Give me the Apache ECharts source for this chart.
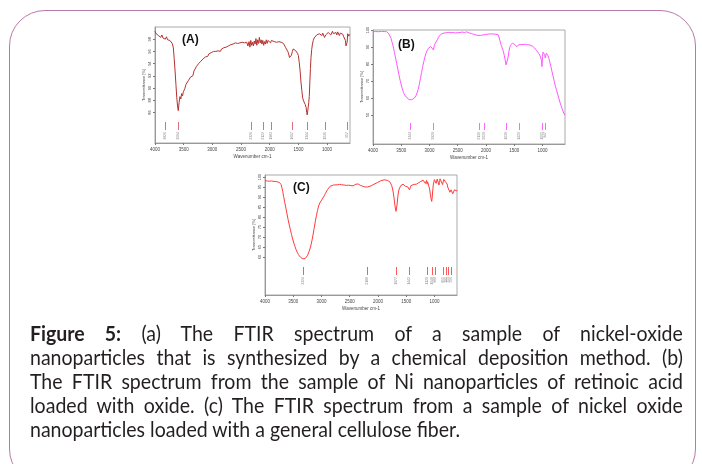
<!DOCTYPE html>
<html><head><meta charset="utf-8">
<script src="https://cdn.jsdelivr.net/npm/echarts@6/dist/echarts.min.js"></script>
<style>
html,body{margin:0;padding:0;background:#fff;width:702px;height:464px;overflow:hidden;}
#frame{position:absolute;left:9px;top:10px;width:687px;height:475px;border:1.5px solid #b87aa8;border-radius:36px;box-sizing:border-box;}
#chart{position:absolute;left:0;top:0;width:702px;height:464px;}
#caption{position:absolute;left:30px;top:321px;width:702px;transform:scaleX(0.93);transform-origin:left top;font-family:Lato,"Open Sans",sans-serif;font-size:21px;line-height:24px;color:#231f20;}
#caption .j{text-align:justify;text-align-last:justify;}
</style></head>
<body>
<div id="frame"></div>
<div id="chart"></div>
<div id="caption">
<div class="j"><b>Figure 5:</b> (a) The FTIR spectrum of a sample of nickel-oxide</div>
<div class="j">nanoparticles that is synthesized by a chemical deposition method. (b)</div>
<div class="j">The FTIR spectrum from the sample of Ni nanoparticles of retinoic acid</div>
<div class="j">loaded with oxide. (c) The FTIR spectrum from a sample of nickel oxide</div>
<div>nanoparticles loaded with a general cellulose fiber.</div>
</div>
<script>
// ---- data ----
const xTicks = [4000, 3500, 3000, 2500, 2000, 1500, 1000];
const yTicksA = [86, 88, 90, 92, 94, 96, 98];
const yTicksB = [50, 60, 70, 80, 90, 100];
const yTicksC = [60, 65, 70, 75, 80, 85, 90, 95, 100];

const spectrumA = [
[4000,99.3],[3980,98.9],[3960,99.1],[3940,98.6],[3920,98.9],[3900,98.3],[3880,98.7],[3860,98.2],[3840,98.5],[3820,98.0],
[3800,98.4],[3780,97.9],[3760,98.2],[3740,97.8],[3720,97.6],[3700,97.3],[3680,96.6],[3665,94.8],[3650,92.8],[3635,90.6],
[3620,88.4],[3605,86.9],[3594,86.3],[3580,87.6],[3565,88.6],[3550,88.2],[3535,89.1],[3520,88.7],[3505,89.4],[3480,89.9],
[3460,90.6],[3440,90.3],[3420,91.2],[3400,91.0],[3380,91.8],[3360,92.1],[3340,92.0],[3320,92.8],[3300,92.9],[3280,93.5],
[3260,93.3],[3240,94.0],[3220,93.9],[3200,94.4],[3180,94.2],[3160,94.8],[3140,94.9],[3120,95.1],[3100,95.4],[3080,95.2],
[3060,95.6],[3040,95.4],[3020,95.8],[3000,95.6],[2980,96.0],[2960,95.7],[2940,96.0],[2920,95.8],[2900,96.1],[2880,96.3],
[2860,96.0],[2840,96.4],[2820,96.3],[2800,96.6],[2780,96.5],[2760,96.7],[2740,96.6],[2720,96.9],[2700,96.8],[2680,97.1],
[2660,96.9],[2640,97.2],[2620,97.0],[2600,97.4],[2580,97.2],[2560,97.3],[2540,97.1],[2520,97.4],[2500,97.2],[2480,97.5],
[2460,97.2],[2440,97.4],[2420,97.1],[2400,97.5],[2380,96.9],[2360,97.6],[2345,96.7],[2330,97.8],[2315,97.0],[2300,97.5],
[2285,96.9],[2270,97.7],[2255,97.2],[2240,98.1],[2225,97.0],[2210,97.9],[2195,97.3],[2180,98.3],[2165,97.4],[2150,97.9],
[2135,97.2],[2120,97.8],[2105,97.0],[2090,97.6],[2075,97.2],[2060,97.9],[2045,97.3],[2030,97.8],[2015,97.5],[2000,97.9],
[1985,97.4],[1970,97.8],[1955,97.6],[1940,97.9],[1920,97.6],[1900,97.8],[1880,97.5],[1860,97.7],[1840,97.6],[1820,97.7],
[1800,97.5],[1780,97.4],[1760,97.3],[1740,97.0],[1720,96.6],[1700,96.3],[1685,96.0],[1670,95.6],[1655,95.0],[1640,94.8],
[1630,94.9],[1620,95.4],[1605,96.0],[1590,96.4],[1575,96.5],[1560,96.4],[1545,96.1],[1530,95.9],[1515,95.7],[1500,95.3],
[1485,94.2],[1470,92.8],[1455,91.0],[1440,89.6],[1425,88.4],[1410,87.9],[1395,87.6],[1380,87.3],[1365,86.8],[1355,86.0],
[1346,85.6],[1335,86.4],[1320,87.6],[1310,88.6],[1300,91.0],[1290,93.2],[1280,95.0],[1268,96.3],[1255,97.2],[1240,97.8],
[1225,98.2],[1210,98.4],[1195,98.5],[1180,98.7],[1165,98.6],[1150,98.8],[1135,98.9],[1120,98.7],[1105,99.1],[1090,98.6],
[1075,99.0],[1060,98.8],[1045,98.3],[1035,98.0],[1025,98.7],[1010,99.0],[995,98.8],[980,99.1],[965,98.9],[950,99.2],
[935,98.7],[920,99.0],[905,99.3],[890,98.9],[875,99.2],[860,98.8],[845,99.1],[830,98.7],[815,99.2],[800,98.9],
[785,98.6],[770,99.0],[755,98.7],[740,99.1],[725,98.8],[710,98.4],[695,98.6],[680,97.8],[670,96.9],[660,96.6],
[650,97.5],[640,98.9],[630,99.1],[620,98.5],[610,98.8],[600,98.6]
];

const spectrumB = [
[4000,99.0],[3950,99.1],[3900,99.0],[3850,99.2],[3800,99.1],[3760,99.0],[3740,98.6],[3720,97.8],[3700,96.8],[3680,95.0],
[3660,92.6],[3640,90.0],[3620,86.8],[3600,83.5],[3580,80.2],[3560,77.0],[3540,73.6],[3520,70.5],[3500,67.8],[3480,65.3],
[3460,63.2],[3440,61.8],[3420,60.8],[3400,60.2],[3380,59.6],[3360,59.1],[3343,58.9],[3320,59.0],[3300,59.3],[3280,59.6],
[3260,60.0],[3240,61.3],[3220,63.0],[3200,65.0],[3180,68.0],[3160,71.5],[3140,75.0],[3120,78.5],[3100,81.5],[3080,84.2],
[3060,86.4],[3040,88.0],[3020,89.2],[3000,89.8],[2980,90.3],[2960,90.4],[2945,89.6],[2930,88.3],[2915,90.8],[2900,92.0],
[2880,92.6],[2860,94.3],[2840,95.8],[2820,96.8],[2800,97.4],[2780,97.9],[2760,98.1],[2740,98.3],[2700,98.4],[2660,98.6],
[2620,98.4],[2580,98.5],[2540,98.3],[2500,98.4],[2460,98.5],[2420,98.8],[2380,98.5],[2340,98.9],[2300,98.3],[2260,97.9],
[2220,97.5],[2190,97.1],[2160,96.9],[2130,96.6],[2100,96.8],[2070,96.5],[2050,97.1],[2030,97.9],[2010,97.3],[1990,98.1],
[1960,97.6],[1930,97.8],[1900,97.7],[1870,97.5],[1840,97.6],[1810,97.3],[1780,97.1],[1765,96.0],[1750,93.5],[1735,91.5],
[1720,90.2],[1705,88.7],[1690,87.2],[1675,85.0],[1660,82.5],[1645,79.5],[1635,78.6],[1625,79.8],[1610,83.5],[1595,87.0],
[1580,89.6],[1565,91.0],[1550,91.8],[1530,92.3],[1510,92.1],[1490,91.4],[1470,90.6],[1450,90.2],[1435,90.6],[1420,91.4],
[1400,91.6],[1380,91.4],[1360,91.7],[1340,91.5],[1320,91.9],[1300,91.6],[1280,91.8],[1260,91.4],[1240,91.5],[1220,91.1],
[1200,91.0],[1180,90.6],[1160,90.0],[1140,89.5],[1120,88.6],[1100,87.8],[1080,87.0],[1060,86.0],[1040,84.8],[1025,84.0],
[1015,82.0],[1008,78.5],[1003,79.5],[997,84.5],[990,87.0],[980,88.0],[970,87.2],[960,85.5],[950,83.5],[942,84.8],
[930,86.5],[915,86.0],[900,84.8],[885,83.2],[870,81.3],[850,78.5],[830,75.6],[810,72.6],[790,69.8],[770,67.0],
[750,64.6],[730,62.3],[710,60.0],[690,57.6],[670,55.5],[650,53.6],[630,51.8],[615,50.6],[600,50.0]
];

const spectrumC = [
[4000,98.2],[3960,98.0],[3920,97.9],[3880,98.0],[3860,97.6],[3840,97.8],[3820,97.5],[3800,97.7],[3780,97.5],[3765,97.6],
[3745,97.3],[3730,96.9],[3715,96.2],[3700,94.6],[3685,92.6],[3670,90.3],[3650,87.3],[3630,84.4],[3610,81.5],[3590,78.6],
[3570,76.0],[3550,73.6],[3530,71.2],[3510,69.0],[3490,67.0],[3470,65.3],[3450,63.7],[3430,62.4],[3410,61.3],[3390,60.4],
[3370,59.8],[3350,59.4],[3330,59.1],[3310,59.3],[3290,59.2],[3270,59.7],[3250,60.6],[3230,62.0],[3210,63.5],[3190,65.5],
[3170,68.0],[3150,71.0],[3130,74.3],[3110,77.6],[3090,80.6],[3070,83.3],[3050,85.5],[3030,87.0],[3010,88.0],[2990,88.8],
[2970,89.5],[2950,90.6],[2930,91.8],[2910,92.8],[2890,93.8],[2870,94.6],[2850,95.3],[2820,95.8],[2790,96.0],[2760,96.2],
[2720,96.1],[2680,96.3],[2640,96.1],[2600,96.0],[2560,95.8],[2520,95.9],[2480,95.7],[2440,95.6],[2410,95.9],[2390,96.4],
[2375,97.4],[2365,97.2],[2350,96.5],[2330,96.2],[2310,95.8],[2290,95.6],[2270,95.4],[2250,95.2],[2230,95.0],[2210,95.3],
[2195,94.2],[2185,95.0],[2170,95.3],[2150,95.2],[2120,95.6],[2100,96.1],[2070,96.4],[2040,96.8],[2010,97.2],[1980,97.7],
[1950,98.1],[1920,98.4],[1890,98.6],[1860,98.5],[1830,98.3],[1800,98.0],[1785,97.4],[1770,96.5],[1755,95.6],[1740,94.0],
[1725,91.5],[1710,88.5],[1700,86.0],[1690,84.0],[1680,82.8],[1672,83.2],[1662,86.0],[1650,89.5],[1640,92.0],[1625,94.0],
[1610,95.0],[1595,95.7],[1575,96.2],[1555,96.4],[1535,96.0],[1515,95.4],[1500,95.8],[1485,95.5],[1470,95.0],[1455,94.4],
[1442,93.6],[1430,94.6],[1415,95.7],[1400,96.2],[1380,96.0],[1360,96.3],[1340,96.5],[1320,96.4],[1300,96.8],[1280,97.1],
[1260,97.5],[1240,97.8],[1220,98.2],[1200,98.4],[1185,98.8],[1175,98.2],[1160,96.8],[1150,97.8],[1140,98.3],[1130,96.4],
[1120,97.6],[1110,98.2],[1100,97.0],[1085,94.0],[1070,91.0],[1058,89.0],[1048,87.8],[1040,89.5],[1030,93.0],[1020,96.0],
[1010,97.5],[1000,98.7],[990,99.2],[980,98.5],[970,96.8],[960,97.4],[950,99.0],[940,99.3],[930,98.2],[920,96.0],
[910,97.2],[900,99.1],[890,99.6],[880,100.0],[872,99.8],[865,98.2],[855,96.2],[845,97.6],[835,98.8],[825,99.2],
[815,98.5],[805,97.6],[795,97.0],[785,97.9],[775,96.5],[765,95.0],[755,94.0],[745,94.8],[735,94.0],[725,92.4],
[715,92.0],[705,93.6],[695,94.2],[685,93.0],[675,91.6],[665,91.3],[655,92.5],[645,93.6],[635,93.2],[625,92.8],
[615,93.5],[605,93.0],[600,93.4]
];

const peaksA = [3826, 3594, 2326, 2122, 1983, 1617, 1344, 1036, 657];
const peaksB = [3343, 2929, 2130, 2029, 1639, 1420, 1005, 947];
const peaksC = [3324, 2188, 1677, 1442, 1129, 1048, 988, 855, 795, 755, 706];

// ---- chart ----
const panels = [
  {grid:{left:155, top:27, width:195, height:116}, yMin:81, yMax:100, yTicks:yTicksA, data:spectrumA, peaks:peaksA,
   color:'#b5312f', peakColor:'#d9707c', mk:[21,13,11]},
  {grid:{left:373, top:30, width:192, height:114}, yMin:33, yMax:100, yTicks:yTicksB, data:spectrumB, peaks:peaksB,
   color:'#ff55ff', peakColor:'#ff66ff', mk:[21,14,12]},
  {grid:{left:265, top:175, width:192, height:120}, yMin:41, yMax:101, yTicks:yTicksC, data:spectrumC, peaks:peaksC,
   color:'#ff3b3b', peakColor:'#ff5a5a', mk:[28,20,18]}
];

const option = {
  animation:false,
  grid: panels.map(p => Object.assign({show:true, borderColor:'#aaaaaa', borderWidth:1, containLabel:false}, p.grid)),
  xAxis: panels.map((p,i) => ({
    type:'value', gridIndex:i, inverse:true, min:600, max:4000,
    axisLine:{show:true, lineStyle:{color:'#999', width:1}},
    axisTick:{show:true, customValues:xTicks, length:2, lineStyle:{color:'#777'}},
    axisLabel:{customValues:xTicks, fontSize:4.5, color:'#444', margin:4, fontFamily:'Arial', formatter:v => String(v)},
    splitLine:{show:false},
    name:'Wavenumber cm-1', nameLocation:'middle', nameGap:11,
    nameTextStyle:{fontSize:4.5, color:'#444', fontFamily:'Arial'}
  })),
  yAxis: panels.map((p,i) => ({
    type:'value', gridIndex:i, min:p.yMin, max:p.yMax,
    axisLine:{show:true, lineStyle:{color:'#999', width:1}},
    axisTick:{show:true, customValues:p.yTicks, length:2, lineStyle:{color:'#777'}},
    axisLabel:{customValues:p.yTicks, rotate:90, fontSize:4, color:'#444', margin:3, fontFamily:'Arial', formatter:v => String(v)},
    splitLine:{show:false},
    name:'Transmittance [%]', nameLocation:'middle', nameRotate:90, nameGap:9,
    nameTextStyle:{fontSize:4, color:'#444', fontFamily:'Arial'}
  })),
  series: [],
  graphic: [
    {type:'text', left:182, top:34, style:{text:'(A)', font:'bold 12px Arial', fill:'#111'}},
    {type:'text', left:398, top:39, style:{text:'(B)', font:'bold 12px Arial', fill:'#111'}},
    {type:'text', left:293, top:182, style:{text:'(C)', font:'bold 12px Arial', fill:'#111'}}
  ]
};

panels.forEach((p,i) => {
  option.series.push({
    type:'line', xAxisIndex:i, yAxisIndex:i, data:p.data, showSymbol:false, smooth:false,
    lineStyle:{color:p.color, width:1}, itemStyle:{color:p.color}, z:3
  });
  option.series.push({
    type:'custom', xAxisIndex:i, yAxisIndex:i, data:p.peaks.map(v => [v, p.yMin]),
    encode:{x:0, y:1},
    renderItem:(params, api) => {
      const wn = api.value(0);
      const pt = api.coord([wn, p.yMin]);
      const x = Math.round(pt[0]) + 0.5, b = pt[1];
      return {type:'group', children:[
        {type:'line', shape:{x1:x, y1:b-p.mk[0], x2:x, y2:b-p.mk[1]}, style:{stroke:p.peakColor, lineWidth:1}},
        {type:'text', x:x, y:b-p.mk[2], rotation:Math.PI/2,
         style:{text:String(wn), fontSize:3.5, fill:'#888', align:'right', verticalAlign:'middle', fontFamily:'Arial'}}
      ]};
    }
  });
});

const chart = echarts.init(document.getElementById('chart'), null, {renderer:'canvas'});
chart.setOption(option);
</script>
</body></html>
